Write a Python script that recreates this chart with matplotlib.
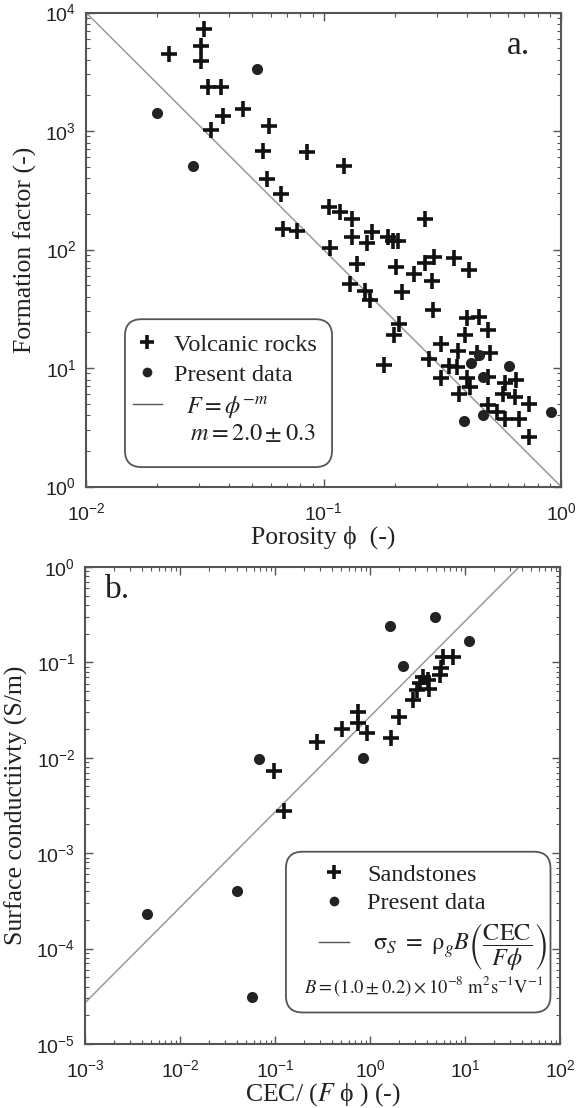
import matplotlib
matplotlib.use('Agg')
import matplotlib.pyplot as plt
from matplotlib.lines import Line2D
from matplotlib.patches import FancyBboxPatch
import numpy as np

plt.rcParams['font.family'] = ['Liberation Serif', 'DejaVu Serif']
plt.rcParams['mathtext.fontset'] = 'stix'
plt.rcParams['axes.unicode_minus'] = False

# ---------------- panel a data ----------------
volcanic_phi = [0.0314, 0.0223, 0.0304, 0.0304, 0.0327, 0.0369, 0.0459, 0.0378, 0.0592, 0.0335,
                0.0555, 0.0855, 0.0577, 0.0661, 0.0673, 0.0776, 0.122, 0.105, 0.117, 0.132,
                0.267, 0.132, 0.160, 0.153, 0.186, 0.196, 0.206, 0.106, 0.292, 0.267,
                0.356, 0.408, 0.138, 0.202, 0.240, 0.286, 0.129, 0.149, 0.157, 0.213,
                0.288, 0.207, 0.198, 0.403, 0.453, 0.493, 0.393, 0.311, 0.179, 0.279,
                0.368, 0.339, 0.366, 0.442, 0.502, 0.311, 0.403, 0.493, 0.414, 0.373,
                0.583, 0.647, 0.568, 0.642, 0.731, 0.493, 0.539, 0.583, 0.667, 0.736]
volcanic_F = [7260, 4470, 5210, 3920, 2370, 2370, 1540, 1340, 1100, 1020,
              674, 665, 396, 294, 150, 143, 507, 230, 207, 182,
              180, 127, 141, 114, 128, 119, 117, 104, 86.9, 77.4,
              84.8, 67.1, 75.5, 71.6, 62.1, 53.9, 51.2, 44.9, 37.5, 43.8,
              30.8, 23.5, 18.9, 26.4, 26.8, 20.9, 19.1, 16.1, 10.7, 12.0,
              14.0, 10.4, 10.3, 13.3, 13.3, 8.24, 8.24, 8.45, 6.95, 6.04,
              7.43, 7.92, 6.04, 5.73, 4.97, 4.84, 4.25, 3.73, 3.69, 2.60]
present_phi = [0.0523, 0.0199, 0.0281, 0.419, 0.606, 0.450, 0.471, 0.471, 0.391, 0.91]
present_F = [3320, 1430, 507, 11.0, 10.4, 12.9, 8.35, 3.99, 3.55, 4.25]
archie_m = 2.0

# ---------------- panel b data ----------------
sand_x = [0.124, 0.0976, 0.275, 0.507, 0.748, 0.748, 0.938, 1.65, 2.03, 2.86,
          3.10, 3.64, 3.36, 4.21, 4.11, 5.46, 5.54, 5.91, 7.43]
sand_s = [0.00277, 0.00733, 0.01465, 0.0202, 0.0302, 0.0230, 0.0181, 0.0161, 0.0270, 0.0404,
          0.0514, 0.0708, 0.0604, 0.0522, 0.0654, 0.0738, 0.0867, 0.1148, 0.113]
pres_x = [1.62, 4.86, 10.9, 2.24, 0.0684, 0.849, 0.00453, 0.0395, 0.0573]
pres_s = [0.241, 0.297, 0.166, 0.0917, 0.00964, 0.00995, 0.000229, 0.000402, 3.13e-5]
slope_k = 0.027   # rho_g * B in the plotted units

TXT = '#222222'
SPINE = '#555555'

fig = plt.figure(figsize=(5.76, 11.08), dpi=100)
ax1 = fig.add_axes([0.1493, 0.5609, 0.8247, 0.4278])
ax2 = fig.add_axes([0.1476, 0.0578, 0.8246, 0.4305])

def style(ax):
    ax.set_xscale('log')
    ax.set_yscale('log')
    for s in ax.spines.values():
        s.set_color(SPINE)
        s.set_linewidth(1.5)
    ax.tick_params(which='both', direction='in', top=True, right=True, color=SPINE,
                   labelsize=14, labelcolor=TXT, labelfontfamily='Liberation Sans')
    ax.tick_params(which='major', length=6, width=1.0, pad=7)
    ax.tick_params(axis='x', which='major', pad=11)
    ax.tick_params(which='minor', length=3, width=0.8)

# ---------- panel a ----------
style(ax1)
ax1.set_xlim(1e-2, 1)
ax1.set_ylim(1, 1e4)
xx = np.logspace(-2, 0, 50)
ax1.plot(xx, xx ** (-archie_m), color='#999999', lw=1.1, zorder=1)
ax1.plot(volcanic_phi, volcanic_F, ls='none', marker='+', ms=11, mew=2.6, color='#111111', zorder=3)
ax1.plot(present_phi, present_F, ls='none', marker='o', ms=8, color='#222222', mec='none', zorder=3)
ax1.set_xlabel('Porosity ϕ  (-)', fontsize=18.5, color=TXT, labelpad=1)
ax1.set_ylabel('Formation factor (-)', fontsize=18.5, color=TXT, labelpad=6)
ax1.text(0.886, 0.912, 'a.', transform=ax1.transAxes, fontsize=24, color=TXT, va='baseline')

box1 = FancyBboxPatch((0.082, 0.041), 0.436, 0.312, transform=ax1.transAxes,
                      boxstyle='round,pad=0,rounding_size=0.035', fc='white', ec=SPINE, lw=1.3, zorder=4)
ax1.add_patch(box1)
h1 = [Line2D([], [], ls='none', marker='+', ms=10, mew=2.6, color='#111111'),
      Line2D([], [], ls='none', marker='o', ms=7, color='#222222', mec='none'),
      Line2D([], [], color='#555555', lw=1.0)]
l1 = ['Volcanic rocks', 'Present data', '  $F = \\phi^{-m}$']
leg1 = ax1.legend(h1, l1, loc='upper left', bbox_to_anchor=(0.098, 0.322), frameon=False,
                  fontsize=17.5, handlelength=1.2, handletextpad=0.5, labelspacing=0.33,
                  borderpad=0, borderaxespad=0)
leg1.set_zorder(5)
for t in leg1.get_texts():
    t.set_color(TXT)
ax1.text(0.218, 0.098, '$m = 2.0 \\pm 0.3$', transform=ax1.transAxes, fontsize=17.5,
         color=TXT, va='baseline', zorder=6)

# ---------- panel b ----------
style(ax2)
ax2.set_xlim(1e-3, 1e2)
ax2.set_ylim(1e-5, 1)
xb = np.logspace(-3, 2, 50)
ax2.plot(xb, slope_k * xb, color='#999999', lw=1.1, zorder=1)
ax2.plot(sand_x, sand_s, ls='none', marker='+', ms=11, mew=2.6, color='#111111', zorder=3)
ax2.plot(pres_x, pres_s, ls='none', marker='o', ms=8, color='#222222', mec='none', zorder=3)
ax2.set_xlabel('CEC/ ($F$ ϕ ) (-)', fontsize=18.5, color=TXT, labelpad=0)
ax2.set_ylabel('Surface conductiivty (S/m)', fontsize=18.5, color=TXT, labelpad=6)
ax2.text(0.042, 0.935, 'b.', transform=ax2.transAxes, fontsize=24, color=TXT, va='baseline')

box2 = FancyBboxPatch((0.423, 0.066), 0.557, 0.337, transform=ax2.transAxes,
                      boxstyle='round,pad=0,rounding_size=0.035', fc='white', ec=SPINE, lw=1.3, zorder=4)
ax2.add_patch(box2)
h2 = [Line2D([], [], ls='none', marker='+', ms=10, mew=2.6, color='#111111'),
      Line2D([], [], ls='none', marker='o', ms=7, color='#222222', mec='none'),
      Line2D([], [], color='#555555', lw=1.0)]
l2 = ['Sandstones', 'Present data',
      ' $\\mathrm{\\sigma}_S\\ =\\ \\mathrm{\\rho}_g B\\left(\\dfrac{\\mathrm{CEC}}{F\\phi}\\right)$']
leg2 = ax2.legend(h2, l2, loc='upper left', bbox_to_anchor=(0.492, 0.378), frameon=False,
                  fontsize=17.5, handlelength=1.25, handletextpad=0.75, labelspacing=0.28,
                  borderpad=0, borderaxespad=0)
leg2.set_zorder(5)
for t in leg2.get_texts():
    t.set_color(TXT)
ax2.text(0.46, 0.108, '$B = (1.0 \\pm 0.2)\\times 10^{-8}\\ \\mathrm{m^2 s^{-1} V^{-1}}$',
         transform=ax2.transAxes, fontsize=13.4, color=TXT, va='baseline', zorder=6)

fig.savefig('out.png', dpi=100)
